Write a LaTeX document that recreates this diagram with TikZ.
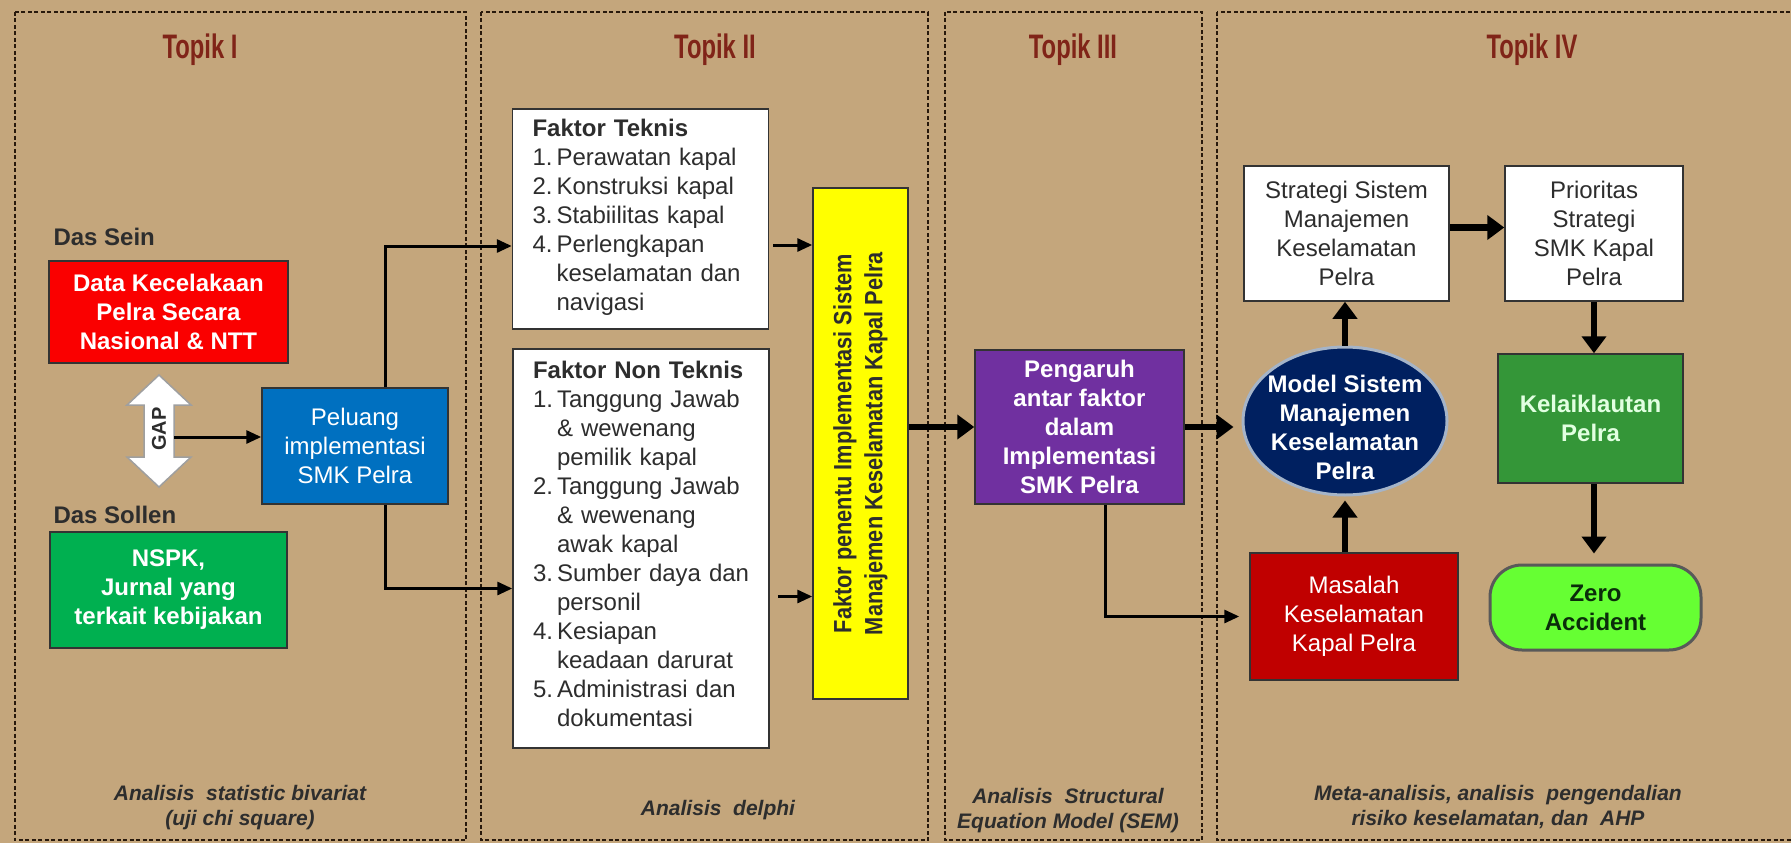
\documentclass[tikz,border=0pt]{standalone}
\usepackage{fontspec}
\setmainfont{Liberation Sans}
\usepackage{graphicx}
\usetikzlibrary{arrows.meta,calc,positioning,shapes.geometric}
\definecolor{tanbg}{RGB}{196,166,124}
\definecolor{panelline}{RGB}{40,25,12}
\definecolor{topikred}{RGB}{128,36,24}
\definecolor{boxred}{RGB}{250,0,0}
\definecolor{boxblue}{RGB}{0,112,192}
\definecolor{boxgreen}{RGB}{0,176,80}
\definecolor{boxyellow}{RGB}{255,255,0}
\definecolor{boxpurple}{RGB}{112,48,160}
\definecolor{boxnavy}{RGB}{0,32,96}
\definecolor{navyrim}{RGB}{165,180,200}
\definecolor{boxdarkred}{RGB}{192,0,0}
\definecolor{boxleaf}{RGB}{52,150,56}
\definecolor{leaftext}{RGB}{225,255,225}
\definecolor{boxlime}{RGB}{102,255,51}
\definecolor{zerotext}{RGB}{10,45,10}
\definecolor{textgray}{RGB}{45,45,45}
\newcommand\boxfont{\fontsize{24}{29}\selectfont}
\newcommand\tightx[2][0.82]{\scalebox{#1}[1]{#2}}
\tikzset{
  panel/.style={draw=panelline, line width=2.5pt, dash pattern=on 4pt off 2.5pt},
  topik/.style={text=topikred, font=\fontsize{34}{36}\selectfont\bfseries},
  caption/.style={text=textgray, align=center, font=\fontsize{21}{25}\selectfont\bfseries\itshape},
  box/.style={draw=black!80, line width=1.5pt, align=center, inner sep=0pt, font=\boxfont},
  listbox/.style={box, fill=white, text=textgray, align=left, text width=216pt, inner xsep=20pt},
  thinarrow/.style={draw=black, line width=3pt, -{Triangle[length=15pt,width=13pt]}},
  thickarrow/.style={draw=black, line width=6.5pt, -{Triangle[length=17pt,width=24pt]}}
}
\begin{document}
\begin{tikzpicture}[x=1pt,y=-1pt]
  \useasboundingbox (0,0) rectangle (1791,843);
  \clip (0,0) rectangle (1791,843);
  \fill[tanbg] (0,0) rectangle (1791,843);
  %Panels
  \draw[panel] (15,12) rectangle (466,840);
  \draw[panel] (481,12) rectangle (928,840);
  \draw[panel] (945,12) rectangle (1202,840);
  \draw[panel] (1217,12) rectangle (1800,840);
  \node[topik] (topik1) at (200,50) {\tightx[0.7]{Topik I}};
  \node[topik] (topik2) at (715,50) {\tightx[0.7]{Topik II}};
  \node[topik] (topik3) at (1073,50) {\tightx[0.7]{Topik III}};
  \node[topik] (topik4) at (1532,50) {\tightx[0.7]{Topik IV}};

  %Topik I
  \node[anchor=west, text=textgray, font=\boxfont\bfseries] (sein) at (50,237) {Das Sein};
  \node[box, fill=boxred, text=white, font=\boxfont\bfseries, minimum width=239pt, minimum height=102pt] (dataK) at (168.5,312) {Data Kecelakaan\\Pelra Secara\\Nasional \& NTT};
  \node[anchor=west, text=textgray, font=\boxfont\bfseries] (sollen) at (50,515) {Das Sollen};
  \node[box, fill=boxgreen, text=white, font=\boxfont\bfseries, minimum width=237pt, minimum height=116pt] (nspk) at (168.5,590) {NSPK,\\Jurnal yang\\terkait kebijakan};
  \node[box, fill=boxblue, text=white, minimum width=186pt, minimum height=116pt] (peluang) at (355,446) {Peluang\\implementasi\\SMK Pelra};
  %GAP arrow
  \def\gx{159}
  \def\gy{431}
  \draw[fill=white, draw=gray!75, line width=1.5pt] (\gx,\gy-56) -- (\gx+32,\gy-26) -- (\gx+15,\gy-26) -- (\gx+15,\gy+26) -- (\gx+32,\gy+26) -- (\gx,\gy+56) -- (\gx-32,\gy+26) -- (\gx-15,\gy+26) -- (\gx-15,\gy-26) -- (\gx-32,\gy-26) -- cycle;
  \node[rotate=90, text=textgray, font=\fontsize{20}{20}\selectfont\bfseries] (gap) at (\gx,\gy-2) {GAP};
  \coordinate (gapR) at (\gx+15,\gy+6);

  %Topik II
  \node[listbox, minimum height=220pt] (teknis) at (640.5,219) {\textbf{Faktor Teknis}\\
    \begin{tabular}[t]{@{}p{24pt}@{}l@{}}
      1. & Perawatan kapal\\
      2. & Konstruksi kapal\\
      3. & Stabiilitas kapal\\
      4. & Perlengkapan\\
         & keselamatan dan\\
         & navigasi
    \end{tabular}};
  \node[listbox, minimum height=399pt] (nonteknis) at (641,548.5) {\textbf{Faktor Non Teknis}\\
    \begin{tabular}[t]{@{}p{24pt}@{}l@{}}
      1. & Tanggung Jawab\\
         & \& wewenang\\
         & pemilik kapal\\
      2. & Tanggung Jawab\\
         & \& wewenang\\
         & awak kapal\\
      3. & Sumber daya dan\\
         & personil\\
      4. & Kesiapan\\
         & keadaan darurat\\
      5. & Administrasi dan\\
         & dokumentasi
    \end{tabular}};
  \node[box, fill=boxyellow, minimum width=95pt, minimum height=511pt] (penentu) at (860.5,443.5) {};
  \node[rotate=90, align=center, text=textgray, font=\fontsize{25}{31}\selectfont\bfseries] (penentuTxt) at (penentu.center) {\tightx[0.87]{Faktor penentu Implementasi Sistem}\\\tightx[0.87]{Manajemen Keselamatan Kapal Pelra}};

  %Topik III
  \node[box, fill=boxpurple, text=white, font=\boxfont\bfseries, minimum width=209pt, minimum height=154pt] (pengaruh) at (1079.5,427) {Pengaruh\\antar faktor\\dalam\\Implementasi\\SMK Pelra};

  %Topik IV
  \node[ellipse, draw=navyrim, line width=3pt, fill=boxnavy, minimum width=204pt, minimum height=148pt] (model) at (1345,421) {};
  \node[align=center, text=white, font=\boxfont\bfseries] (modelTxt) at ([yshift=-6pt]model.center) {Model Sistem\\Manajemen\\Keselamatan\\Pelra};
  \node[box, fill=white, text=textgray, minimum width=205pt, minimum height=135pt] (strategi) at (1346.5,233.5) {Strategi Sistem\\Manajemen\\Keselamatan\\Pelra};
  \node[box, fill=white, text=textgray, minimum width=178pt, minimum height=135pt] (prioritas) at (1594,233.5) {Prioritas\\Strategi\\SMK Kapal\\Pelra};
  \node[box, fill=boxdarkred, text=white, minimum width=208pt, minimum height=127pt] (masalah) at (1354,616.5) {Masalah\\Keselamatan\\Kapal Pelra};
  \node[box, fill=boxleaf, text=leaftext, font=\boxfont\bfseries, minimum width=185pt, minimum height=129pt] (kelaik) at (1590.5,418.5) {Kelaiklautan\\Pelra};
  \node[box, rounded corners=32pt, fill=boxlime, draw=gray!70!black, line width=3pt, text=zerotext, font=\boxfont\bfseries, minimum width=211pt, minimum height=85pt] (zero) at (1595.5,607.5) {Zero\\Accident};

  %Draw arrows
  \draw[thinarrow] (gapR) -- (gapR -| peluang.west);
  \draw[thinarrow] ([xshift=30pt]peluang.north) |- ([yshift=-27pt]teknis.west);
  \draw[thinarrow] ([xshift=30pt]peluang.south) |- ([yshift=-40pt]nonteknis.west);
  \draw[thinarrow] ([xshift=4pt,yshift=-26pt]teknis.east) -- ([yshift=-26pt]teknis.east -| penentu.west);
  \draw[thinarrow] ([xshift=8pt,yshift=-48pt]nonteknis.east) -- ([yshift=-48pt]nonteknis.east -| penentu.west);
  \draw[thickarrow] (penentu.east |- pengaruh.west) -- (pengaruh.west);
  \draw[thickarrow, shorten >=8pt] (pengaruh.east) -- (pengaruh.east -| model.west);
  \draw[thinarrow, shorten >=10pt] ([xshift=25.5pt]pengaruh.south) |- (masalah.west);
  \draw[thickarrow] (model.north) -- (model.north |- strategi.south);
  \draw[thickarrow, shorten >=4pt] (masalah.north -| model.south) -- (model.south);
  \draw[thickarrow] ([yshift=6pt]strategi.east) -- ([yshift=6pt]prioritas.west);
  \draw[thickarrow] (prioritas.south) -- (prioritas.south |- kelaik.north);
  \draw[thickarrow, shorten >=10pt] (prioritas.south |- kelaik.south) -- (prioritas.south |- zero.north);

  %Captions
  \node[caption] (cap1) at (240,807.5) {Analisis\ \ statistic bivariat\\(uji chi square)};
  \node[caption] (cap2) at (718,810) {Analisis\ \ delphi};
  \node[caption] (cap3) at (1068,810.5) {Analisis\ \ Structural\\Equation Model (SEM)};
  \node[caption] (cap4) at (1498,807.5) {Meta-analisis, analisis\ \ pengendalian\\risiko keselamatan, dan\ \ AHP};
\end{tikzpicture}
\end{document}
